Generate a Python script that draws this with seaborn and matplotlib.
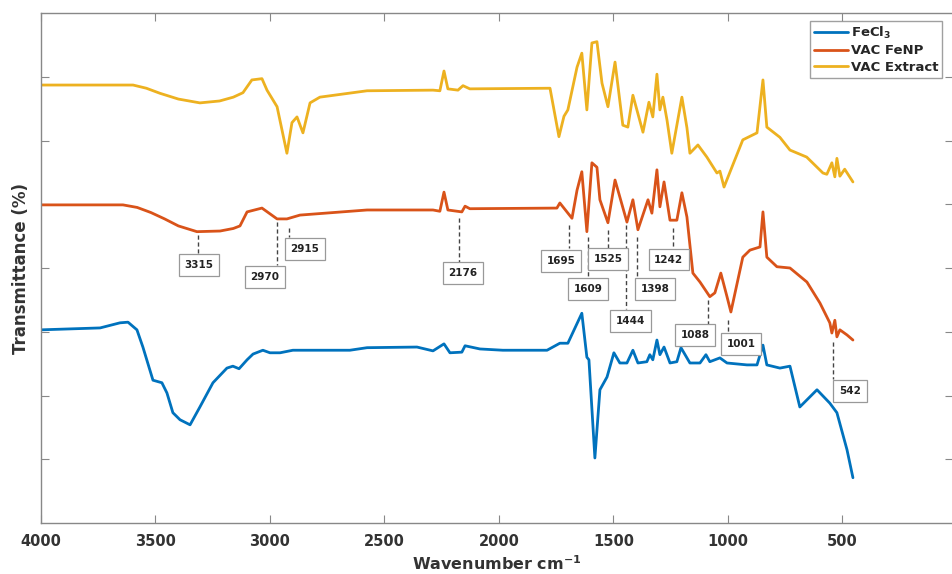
import numpy as np
import pandas as pd
import matplotlib
matplotlib.use('Agg')
import matplotlib.pyplot as plt
import seaborn as sns

wn_extract = [4000, 3598, 3540, 3480, 3400, 3306, 3220, 3160, 3118, 3079, 3035, 3013, 2969, 2926,
              2904, 2882, 2856, 2825, 2782, 2576, 2288, 2258, 2240, 2223, 2179, 2157, 2127, 1777,
              1738, 1716, 1699, 1659, 1638, 1616, 1594, 1572, 1550, 1524, 1493, 1459, 1437, 1415,
              1371, 1345, 1328, 1310, 1297, 1284, 1266, 1245, 1201, 1179, 1166, 1131, 1092, 1048,
              1035, 1017, 975, 935, 873, 847, 830, 773, 729, 656, 585, 568, 546, 533, 524, 511,
              490, 454]
t_extract = [6.87, 6.87, 6.82, 6.74, 6.65, 6.59, 6.62, 6.68, 6.75, 6.95, 6.97, 6.79, 6.53, 5.80,
             6.28, 6.37, 6.12, 6.59, 6.68, 6.78, 6.79, 6.78, 7.09, 6.81, 6.79, 6.86, 6.81, 6.82,
             6.06, 6.38, 6.48, 7.15, 7.37, 6.48, 7.53, 7.55, 6.90, 6.53, 7.23, 6.24, 6.21, 6.71,
             6.13, 6.60, 6.37, 7.04, 6.48, 6.68, 6.32, 5.80, 6.68, 6.20, 5.80, 5.93, 5.74, 5.49,
             5.52, 5.27, 5.65, 6.01, 6.12, 6.95, 6.21, 6.05, 5.85, 5.74, 5.49, 5.47, 5.65, 5.43,
             5.72, 5.44, 5.55, 5.35]

wn_fenp = [4000, 3642, 3580, 3520, 3460, 3400, 3319, 3218, 3160, 3131, 3100, 3035, 2969, 2926,
           2869, 2576, 2288, 2258, 2240, 2223, 2162, 2148, 2127, 1747, 1734, 1681, 1659, 1638,
           1616, 1594, 1572, 1559, 1524, 1493, 1441, 1415, 1393, 1349, 1332, 1310, 1297, 1279,
           1253, 1223, 1201, 1179, 1153, 1122, 1079, 1057, 1031, 1004, 987, 935, 904, 860, 847,
           830, 786, 729, 655, 598, 555, 546, 533, 524, 511, 480, 454]
t_fenp = [4.99, 4.99, 4.95, 4.87, 4.77, 4.66, 4.57, 4.58, 4.62, 4.66, 4.88, 4.94, 4.77, 4.77,
          4.83, 4.91, 4.91, 4.89, 5.19, 4.91, 4.88, 4.97, 4.93, 4.94, 5.02, 4.78, 5.22, 5.51,
          4.57, 5.65, 5.58, 5.07, 4.71, 5.38, 4.72, 5.07, 4.60, 5.07, 4.86, 5.54, 4.96, 5.35,
          4.75, 4.75, 5.18, 4.80, 3.92, 3.78, 3.55, 3.61, 3.92, 3.55, 3.31, 4.17, 4.28, 4.33,
          4.88, 4.17, 4.02, 4.00, 3.78, 3.45, 3.14, 2.98, 3.18, 2.92, 3.03, 2.95, 2.87]

wn_fecl3 = [4000, 3742, 3655, 3620, 3581, 3555, 3511, 3472, 3450, 3424, 3393, 3349, 3306, 3249,
            3188, 3162, 3135, 3100, 3074, 3031, 3000, 2956, 2900, 2651, 2576, 2358, 2288, 2240,
            2214, 2162, 2148, 2083, 1983, 1790, 1734, 1699, 1638, 1616, 1607, 1581, 1559, 1528,
            1498, 1472, 1441, 1415, 1393, 1354, 1341, 1328, 1310, 1297, 1279, 1253, 1223, 1205,
            1166, 1122, 1096, 1079, 1035, 1004, 917, 873, 847, 830, 773, 729, 686, 611, 555,
            524, 480, 454]
t_fecl3 = [3.03, 3.06, 3.14, 3.15, 3.03, 2.76, 2.24, 2.20, 2.04, 1.73, 1.62, 1.54, 1.82, 2.20,
           2.43, 2.46, 2.42, 2.56, 2.65, 2.71, 2.67, 2.67, 2.71, 2.71, 2.75, 2.76, 2.70, 2.81,
           2.67, 2.68, 2.78, 2.73, 2.71, 2.71, 2.82, 2.82, 3.29, 2.60, 2.56, 1.02, 2.09, 2.29,
           2.67, 2.51, 2.51, 2.71, 2.51, 2.53, 2.64, 2.56, 2.87, 2.64, 2.76, 2.51, 2.53, 2.75,
           2.51, 2.51, 2.64, 2.53, 2.59, 2.51, 2.48, 2.48, 2.79, 2.48, 2.43, 2.46, 1.82, 2.09,
           1.88, 1.73, 1.15, 0.71]

# peak labels on the VAC FeNP curve
peak_labels = ['3315', '2970', '2915', '2176', '1695', '1609', '1525', '1444', '1398', '1242',
               '1088', '1001', '542']
peak_wn = [3315, 2970, 2915, 2176, 1695, 1609, 1525, 1444, 1398, 1242, 1088, 1001, 542]
# leader line extent and label box centre
line_top = [4.52, 4.72, 4.63, 4.78, 4.68, 4.49, 4.60, 4.68, 4.49, 4.63, 3.50, 3.18, 2.84]
line_bot = [4.24, 4.05, 4.49, 4.09, 4.31, 3.84, 4.31, 3.36, 3.84, 4.31, 3.12, 2.98, 2.26]
box_x = [3310, 3022, 2847, 2157, 1729, 1611, 1524, 1424, 1319, 1258, 1144, 943, 467]
box_y = [4.05, 3.86, 4.30, 3.92, 4.11, 3.67, 4.14, 3.17, 3.67, 4.13, 2.95, 2.81, 2.07]

series = [('FeCl$_\\mathbf{3}$', wn_fecl3, t_fecl3, '#0072BD'),
          ('VAC FeNP', wn_fenp, t_fenp, '#D95319'),
          ('VAC Extract', wn_extract, t_extract, '#EDB120')]

sns.set_style('ticks')
plt.rcParams['font.family'] = ['DejaVu Sans']

fig = plt.figure(figsize=(9.53, 5.74), dpi=100)
ax = fig.add_axes([41/953, 51/574, 912/953, 510/574])

for name, wn, t, col in series:
    df = pd.DataFrame({'wn': wn, 't': t})
    sns.lineplot(data=df, x='wn', y='t', color=col, linewidth=2.0, label=name,
                 sort=False, estimator=None, ax=ax)

for lab, x, y0, y1, bx, by in zip(peak_labels, peak_wn, line_top, line_bot, box_x, box_y):
    ax.plot([x, x], [y0, y1], color='#444444', linestyle=(0, (3, 2)), linewidth=1.0)
    ax.text(bx, by, lab, ha='center', va='center', fontsize=7.5, fontweight='bold', color='#222222',
            bbox=dict(boxstyle='square,pad=0.55', facecolor='white', edgecolor='#999999', linewidth=0.9))

ax.set_xlim(4000, 17)
ax.set_ylim(0, 8)
ax.set_xticks([4000, 3500, 3000, 2500, 2000, 1500, 1000, 500])
ax.set_xticklabels(['4000', '3500', '3000', '2500', '2000', '1500', '1000', '500'],
                   fontsize=10.5, fontweight='bold', color='#333333')
ax.set_yticks([1, 2, 3, 4, 5, 6, 7])
ax.set_yticklabels([])
ax.tick_params(direction='in', length=6, width=0.8, color='#888888', top=True, right=True, pad=8)
for s in ['left', 'bottom', 'top']:
    ax.spines[s].set_color('#888888')
    ax.spines[s].set_linewidth(1.0)
ax.spines['right'].set_visible(False)

ax.set_xlabel('Wavenumber cm$^{\\mathbf{-1}}$', fontsize=11.5, fontweight='bold', color='#333333', labelpad=4)
ax.set_ylabel('Transmittance (%)', fontsize=12, fontweight='bold', color='#333333', labelpad=0)

leg = ax.legend(loc='upper right', bbox_to_anchor=(1 - 11/912, 1 - 8/510), borderaxespad=0,
                fancybox=False, frameon=True, handlelength=2.6, handletextpad=0.2,
                labelspacing=0.25, borderpad=0.3, prop={'weight': 'bold', 'size': 9.5})
leg.get_frame().set_edgecolor('#888888')
leg.get_frame().set_linewidth(1.0)

plt.savefig('out.png', dpi=100)
